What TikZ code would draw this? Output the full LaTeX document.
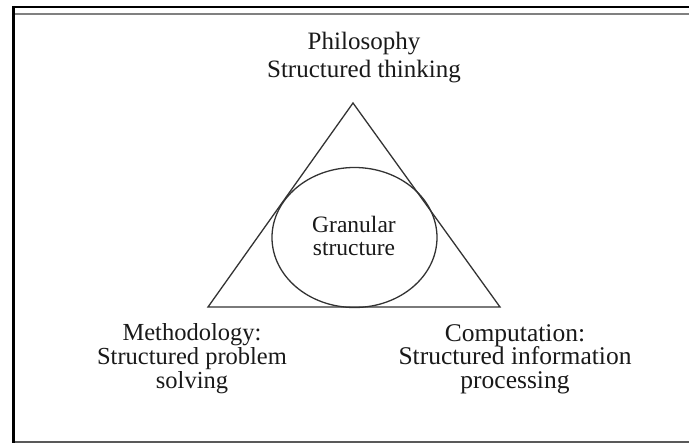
\documentclass[tikz,border=0pt]{standalone}
\usepackage{fontspec}
\setmainfont{Liberation Serif}
\begin{document}
\begin{tikzpicture}[x=1pt,y=-1pt,
  labeltext/.style={align=center, inner sep=0pt, text=black!90},
  shapeline/.style={draw=black!80, line width=1.3pt}]
\useasboundingbox (0,0) rectangle (689,445);
% page frame
\draw[line width=2.5pt] (12,7) -- (689,7);
\draw[gray, line width=1.5pt] (15,14) -- (689,14);
\draw[line width=3pt] (13.5,5.75) -- (13.5,443);
\draw[black!65, line width=2pt] (15,442) -- (689,442);
% triangle with inscribed ellipse
\coordinate (apex) at (353,103);
\coordinate (bl) at (208,307);
\coordinate (br) at (500,307);
\draw[shapeline, line join=miter] (apex) -- (bl) -- (br) -- cycle;
\draw[shapeline] (354.5,237.5) ellipse [x radius=82.5pt, y radius=70pt];
% labels (anchored on the baseline of the last line)
\node[labeltext, anchor=base, font=\fontsize{25}{28}\selectfont] (phil) at (364,77)
  {Philosophy\\Structured thinking};
\node[labeltext, anchor=base, font=\fontsize{23.5}{23}\selectfont] (gran) at (354,255)
  {Granular\\structure};
\node[labeltext, anchor=base, font=\fontsize{24.5}{24}\selectfont] (meth) at (192,388)
  {Methodology:\\Structured problem\\solving};
\node[labeltext, anchor=base, font=\fontsize{25.5}{23.5}\selectfont] (comp) at (515,388)
  {Computation:\\Structured information\\processing};
\end{tikzpicture}
\end{document}
